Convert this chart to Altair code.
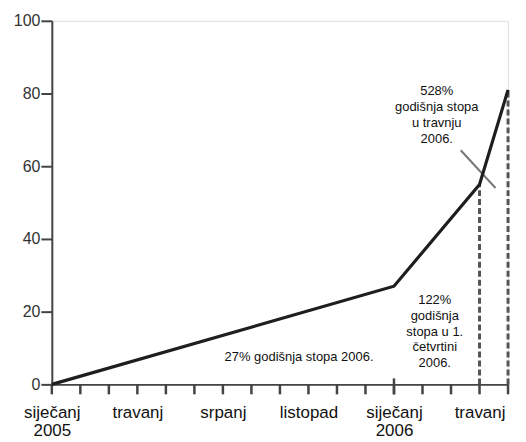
import altair as alt
import pandas as pd

# main series (month index: 0 = siječanj 2005)
months = [0, 12, 15, 16]
values = [0, 27, 55, 81]

# dashed drop lines
drop_months = [15, 16]
drop_values = [55, 81]

# x axis
tick_months = list(range(0, 17))
label_months = [0, 3, 6, 9, 12, 15]
label_lines = [["siječanj", "2005"], ["travanj"], ["srpanj"], ["listopad"],
               ["siječanj", "2006"], ["travanj"]]
big_tick_month = [12]

# y axis
y_ticks = [0, 20, 40, 60, 80, 100]

# annotations (position of first line)
note_x = [8.67, 13.43, 13.5]
note_y = [7.6, 23.3, 80.6]
note_text = ["27% godišnja stopa 2006.",
             "122%\ngodišnja\nstopa u 1.\nčetvrtini\n2006.",
             "528%\ngodišnja stopa\nu travnju\n2006."]

# pointer line for 528% note
ptr_x = [14.34]
ptr_y = [64.4]
ptr_x2 = [15.56]
ptr_y2 = [54.0]

FONT = "Liberation Sans"
PLOT_W, PLOT_H = 458, 365

def lab(lines):
    if len(lines) == 1:
        return "'" + lines[0] + "'"
    return "[" + ",".join("'" + s + "'" for s in lines) + "]"

expr = "''"
for m, l in reversed(list(zip(label_months, label_lines))):
    expr = f"datum.value == {m} ? {lab(l)} : ({expr})"

xs = alt.Scale(domain=[0, 16], nice=False, zero=False)
ys = alt.Scale(domain=[0, 100], nice=False)

line_df = pd.DataFrame({"m": months, "v": values})
drop_df = pd.DataFrame({"m": drop_months, "v": drop_values, "z": [0] * len(drop_months)})
note_df = pd.DataFrame({"x": note_x, "y": note_y, "t": note_text})
ptr_df = pd.DataFrame({"x": ptr_x, "y": ptr_y, "x2": ptr_x2, "y2": ptr_y2})
tick_df = pd.DataFrame({"m": tick_months})
bt_df = pd.DataFrame({"m": big_tick_month})

x_axis = alt.Axis(values=label_months, labelExpr=expr, title=None, grid=False,
                  ticks=False, domainColor="#444", domainWidth=2,
                  labelFont=FONT, labelFontSize=17, labelColor="#111",
                  labelPadding=20, labelLineHeight=18, labelBaseline="top",
                  labelAlign="center", labelOverlap=False, labelFlush=False)
y_axis = alt.Axis(values=y_ticks, title=None, grid=False,
                  domainColor="#444", domainWidth=2, tickColor="#444", tickWidth=2,
                  tickSize=11, labelFont=FONT, labelFontSize=16, labelColor="#333",
                  labelPadding=1)

base_line = alt.Chart(line_df).mark_line(color="#1e1e1e", strokeWidth=3.2).encode(
    x=alt.X("m:Q", scale=xs, axis=x_axis),
    y=alt.Y("v:Q", scale=ys, axis=y_axis),
)

drops = alt.Chart(drop_df).mark_rule(color="#555", strokeWidth=3, strokeDash=[6, 3]).encode(
    x="m:Q", y="z:Q", y2="v:Q"
)

ptr = alt.Chart(ptr_df).mark_rule(color="#777", strokeWidth=2).encode(
    x="x:Q", y="y:Q", x2="x2:Q", y2="y2:Q"
)

minor_ticks = alt.Chart(tick_df).mark_rule(color="#444", strokeWidth=2.5).encode(
    x="m:Q", y=alt.value(PLOT_H), y2=alt.value(PLOT_H + 10)
)

bigtick = alt.Chart(bt_df).mark_rule(color="#444", strokeWidth=2.5).encode(
    x="m:Q", y=alt.value(PLOT_H - 6), y2=alt.value(PLOT_H + 10)
)

notes = alt.Chart(note_df).mark_text(font=FONT, fontSize=13, lineBreak="\n",
                                     lineHeight=16, align="center", baseline="middle",
                                     color="#111").encode(
    x="x:Q", y="y:Q", text="t:N"
)

chart = alt.layer(drops, ptr, minor_ticks, bigtick, base_line, notes).properties(
    width=PLOT_W, height=PLOT_H,
    autosize=alt.AutoSizeParams(type="none"),
    padding={"left": 44, "top": 12, "right": 10, "bottom": 57},
).configure_view(stroke=None).configure(background="white")

chart.save("out.html", embed_options={"renderer": "svg", "actions": False})
